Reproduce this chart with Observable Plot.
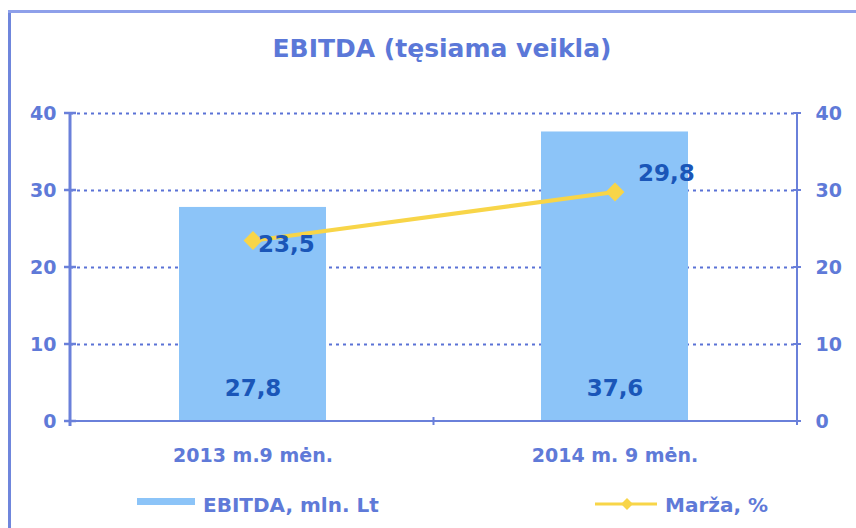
<!DOCTYPE html>
<html><head><meta charset="utf-8">
<script src="https://cdn.jsdelivr.net/npm/d3@7"></script>
<script src="https://cdn.jsdelivr.net/npm/@observablehq/plot@0.6"></script>
<style>
html,body{margin:0;background:#fff;overflow:hidden;}
#wrap{position:relative;width:856px;height:528px;overflow:hidden;font-family:"DejaVu Sans",sans-serif;font-weight:bold;background:#fff;}
#frameL{position:absolute;left:8px;top:10px;width:3px;height:540px;background:#6f86dc;}
#frameT{position:absolute;left:8px;top:10px;width:860px;height:3px;background:#8ea0ea;}
#title{position:absolute;left:0;top:36px;width:884px;text-align:center;font-size:25px;line-height:25px;color:#5b78d8;}
#chart{position:absolute;left:0;top:90px;}
.lg{position:absolute;font-size:20px;line-height:20px;color:#5f7ad8;}
</style></head><body>
<div id="wrap">
  <div id="frameL"></div>
  <div id="frameT"></div>
  <div id="title">EBITDA (tęsiama veikla)</div>
  <div id="chart"></div>
  <div id="sw1" style="position:absolute;left:137px;top:498px;width:58px;height:7px;background:#8cc4f8;"></div>
  <div class="lg" id="lg1" style="left:203px;top:495px;"></div>
  <svg id="sw2" style="position:absolute;left:593px;top:494px;" width="66" height="20"></svg>
  <div class="lg" id="lg2" style="left:665px;top:495px;"></div>
</div>
<script>
const categories = ["2013 m.9 mėn.", "2014 m. 9 mėn."];
const ebitda = [27.8, 37.6];
const marza = [23.5, 29.8];
const yTicks = [0, 10, 20, 30, 40];
const gridTicks = [10, 20, 30, 40];
const seriesNames = ["EBITDA, mln. Lt", "Marža, %"];
const titleText = "EBITDA (tęsiama veikla)";

const AXIS = "#6a80da";
const BAR = "#8cc4f8";
const LINE = "#f8d548";
const LABEL = "#1a56b8";

const data = categories.map((c, i) => ({cat: c, ebitda: ebitda[i], marza: marza[i]}));
const fmt = v => d3.format(".1f")(v).replace(".", ",");

document.getElementById("title").textContent = titleText;
document.getElementById("lg1").textContent = seriesNames[0];
document.getElementById("lg2").textContent = seriesNames[1];

// legend line swatch
{
  const s = d3.select("#sw2");
  s.append("line").attr("x1", 2).attr("x2", 64).attr("y1", 10).attr("y2", 10).attr("stroke", LINE).attr("stroke-width", 3);
  s.append("path").attr("d", d3.symbol(d3.symbolDiamond2, 90)()).attr("transform", "translate(34,10)").attr("fill", LINE);
}

function axisLines(index, scales, values, dims) {
  const {width, height, marginLeft, marginRight, marginBottom} = dims;
  const L = marginLeft, R = width - marginRight, B = height - marginBottom;
  const top = scales.y(yTicks[yTicks.length - 1]);
  const g = d3.create("svg:g").attr("stroke", AXIS).attr("fill", "none");
  g.append("line").attr("x1", L).attr("x2", L).attr("y1", top).attr("y2", B + 5).attr("stroke-width", 3);
  g.append("line").attr("x1", R).attr("x2", R).attr("y1", top).attr("y2", B + 4).attr("stroke-width", 2);
  g.append("line").attr("x1", L).attr("x2", R).attr("y1", B).attr("y2", B).attr("stroke-width", 2);
  for (const t of yTicks) {
    const y = scales.y(t);
    g.append("line").attr("x1", L - 6).attr("x2", L + 6).attr("y1", y).attr("y2", y).attr("stroke-width", 2.5);
    g.append("line").attr("x1", R - 4).attr("x2", R + 4).attr("y1", y).attr("y2", y).attr("stroke-width", 2);
  }
  const mid = (L + R) / 2;
  g.append("line").attr("x1", mid).attr("x2", mid).attr("y1", B - 4).attr("y2", B + 4).attr("stroke-width", 2);
  return g.node();
}

const chart = Plot.plot({
  width: 856,
  height: 390,
  marginLeft: 70,
  marginRight: 59,
  marginTop: 23,
  marginBottom: 59,
  style: {fontFamily: "DejaVu Sans, sans-serif", fontWeight: "bold", background: "transparent", overflow: "visible"},
  x: {domain: categories, paddingInner: 0.595, paddingOuter: 0.3, label: null},
  y: {domain: [0, 40], label: null},
  marks: [
    Plot.ruleY(gridTicks, {stroke: "#5a72d6", strokeWidth: 2, strokeDasharray: "3,4"}),
    Plot.barY(data, {x: "cat", y: "ebitda", fill: BAR}),
    axisLines,
    Plot.axisY({anchor: "left", ticks: yTicks, tickSize: 0, tickPadding: 14, fontSize: 19, color: "#5f7ad8", label: null}),
    Plot.axisY({anchor: "right", ticks: yTicks, tickSize: 0, tickPadding: 18, fontSize: 19, color: "#5f7ad8", label: null}),
    Plot.axisX({tickSize: 0, tickPadding: 27, fontSize: 19, color: "#5f7ad8", label: null}),
    Plot.line(data, {x: "cat", y: "marza", stroke: LINE, strokeWidth: 4}),
    Plot.dot(data, {x: "cat", y: "marza", symbol: "diamond2", r: 8.5, fill: LINE, stroke: null}),
    Plot.text(data, {x: "cat", y: () => 0, text: d => fmt(d.ebitda), dy: -33, fontSize: 23, fill: LABEL}),
    Plot.text([data[0]], {x: "cat", y: "marza", text: d => fmt(d.marza), dx: 5, dy: 4, textAnchor: "start", fontSize: 23, fill: LABEL}),
    Plot.text([data[1]], {x: "cat", y: "marza", text: d => fmt(d.marza), dx: 23, dy: -18, textAnchor: "start", fontSize: 23, fill: LABEL})
  ]
});
document.getElementById("chart").appendChild(chart);
</script>
</body></html>
